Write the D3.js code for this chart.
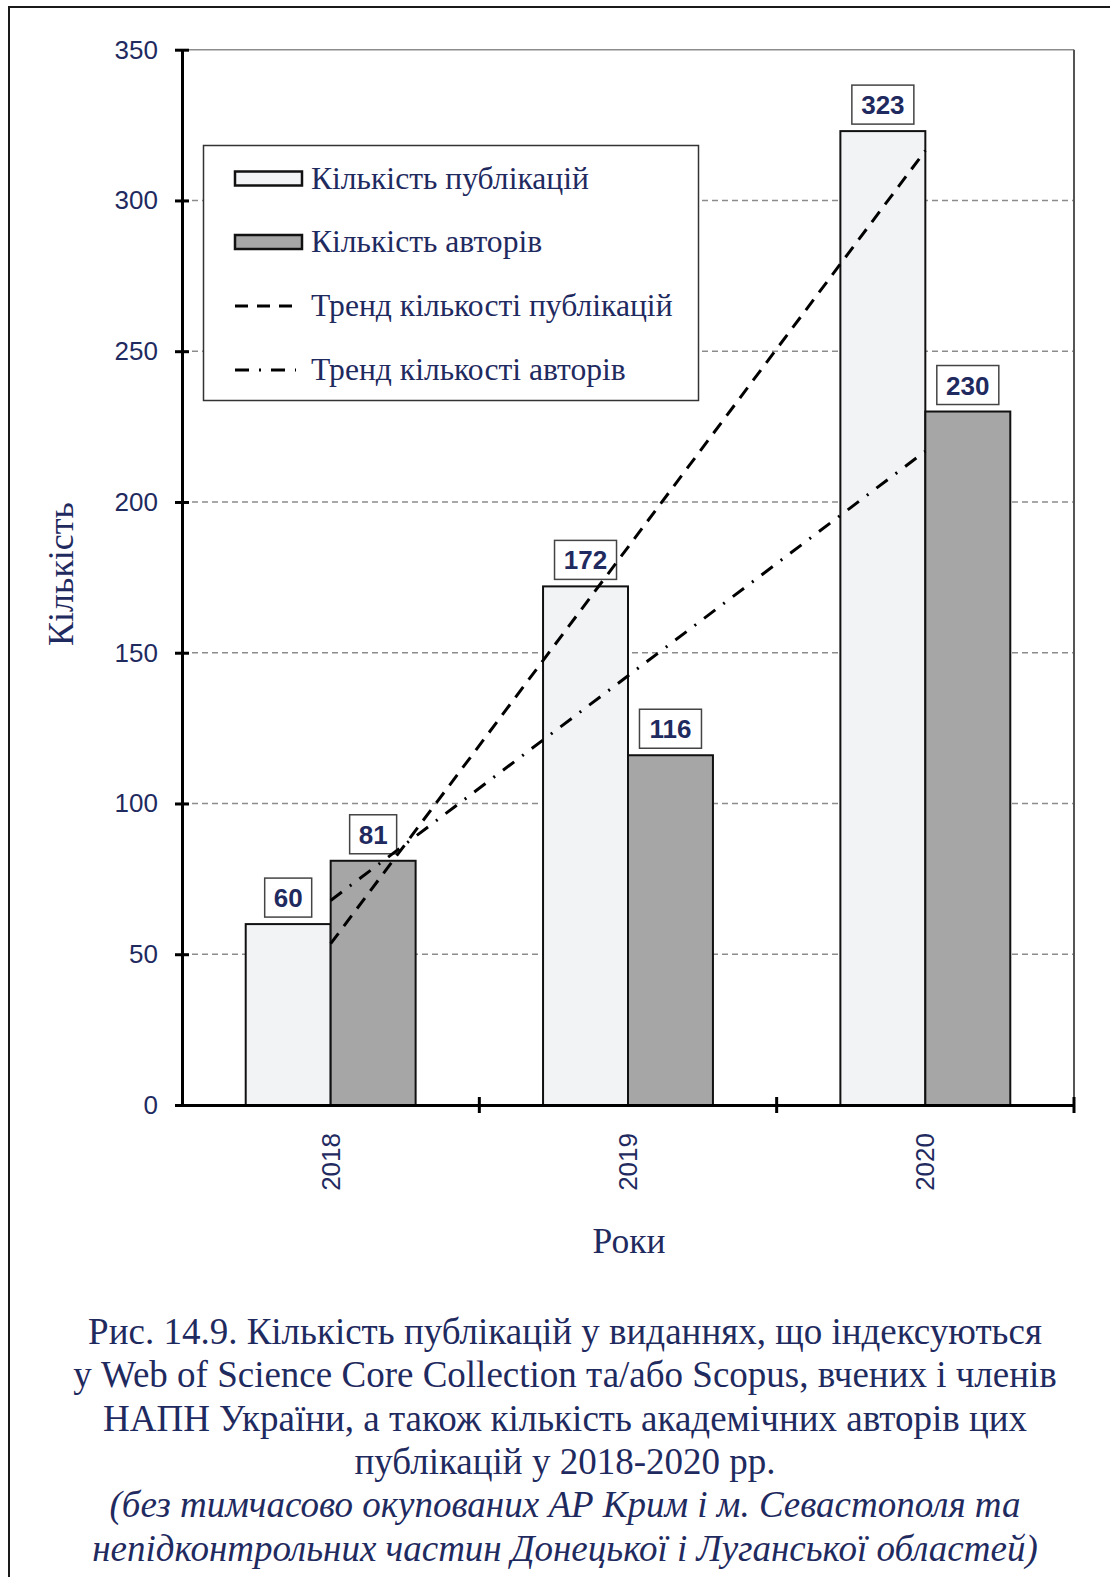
<!DOCTYPE html>
<html>
<head>
<meta charset="utf-8">
<script src="https://cdn.jsdelivr.net/npm/d3@7"></script>
<style>
  body { margin: 0; background: #fff; }
  svg { display: block; }
</style>
</head>
<body>
<div id="chart"></div>
<script>
const width = 1110;
const height = 1577;

// data
const years = ["2018", "2019", "2020"];
const publications = [60, 172, 323];
const authors = [81, 116, 230];
const seriesNames = ["Кількість публікацій", "Кількість авторів"];
const trendNames = ["Тренд кількості публікацій", "Тренд кількості авторів"];
const yTicks = [0, 50, 100, 150, 200, 250, 300, 350];
const captionLines = [
  "Рис. 14.9. Кількість публікацій у виданнях, що індексуються",
  "у Web of Science Core Collection та/або Scopus, вчених і членів",
  "НАПН України, а також кількість академічних авторів цих",
  "публікацій у 2018-2020 рр."
];
const noteLines = [
  "(без тимчасово окупованих АР Крим і м. Севастополя та",
  "непідконтрольних частин Донецької і Луганської областей)"
];

const navy = "#1f2a5f";
const fills = ["#f2f3f5", "#a6a6a6"];
const serif = "'Liberation Serif', 'Times New Roman', serif";
const sans = "'Liberation Sans', Arial, sans-serif";

const plot = { left: 182, right: 1074, top: 49.7, bottom: 1105 };

const svg = d3.select("#chart")
  .append("svg")
  .attr("width", width)
  .attr("height", height);

// outer frame
svg.append("rect")
  .attr("x", 9).attr("y", 7)
  .attr("width", 1120).attr("height", 1600)
  .attr("fill", "none")
  .attr("stroke", "#1a1a1a")
  .attr("stroke-width", 2);

const x0 = d3.scaleBand()
  .domain(years)
  .range([plot.left, plot.right]);

// gap width 150% -> 2 bars + 1.5 bar of gap per category
const x1 = d3.scaleBand()
  .domain([0, 1])
  .range([0, x0.bandwidth()])
  .paddingOuter(0.75);

const y = d3.scaleLinear()
  .domain([0, 350])
  .range([plot.bottom, plot.top]);

// gridlines
svg.append("g")
  .selectAll("line")
  .data(yTicks.filter(d => d > 0))
  .join("line")
  .attr("x1", plot.left)
  .attr("x2", plot.right)
  .attr("y1", d => y(d))
  .attr("y2", d => y(d))
  .attr("stroke", "#8c8c8c")
  .attr("stroke-width", 1.5)
  .attr("stroke-dasharray", d => d === 350 ? null : "6,4");

// right border of plot area
svg.append("line")
  .attr("x1", plot.right).attr("x2", plot.right)
  .attr("y1", plot.top).attr("y2", plot.bottom)
  .attr("stroke", "#555")
  .attr("stroke-width", 2);

// bars
const rows = years.map((yr, i) => ({ year: yr, values: [publications[i], authors[i]] }));

const groups = svg.append("g")
  .selectAll("g")
  .data(rows)
  .join("g")
  .attr("transform", d => `translate(${x0(d.year)},0)`);

groups.selectAll("rect")
  .data(d => d.values.map((v, k) => ({ k, v })))
  .join("rect")
  .attr("x", d => x1(d.k))
  .attr("width", x1.bandwidth())
  .attr("y", d => y(d.v))
  .attr("height", d => y(0) - y(d.v))
  .attr("fill", d => fills[d.k])
  .attr("stroke", "#111")
  .attr("stroke-width", 2);

// data labels
groups.each(function(d) {
  const g = d3.select(this);
  d.values.forEach((v, k) => {
    const cx = x1(k) + x1.bandwidth() / 2;
    const bw = String(v).length * 15 + 17;
    const lb = g.append("g").attr("transform", `translate(${cx},${y(v) - 7})`);
    lb.append("rect")
      .attr("x", -bw / 2).attr("y", -39)
      .attr("width", bw).attr("height", 39)
      .attr("fill", "#fff")
      .attr("stroke", "#444")
      .attr("stroke-width", 1.5);
    lb.append("text")
      .attr("y", -10)
      .attr("text-anchor", "middle")
      .attr("font-family", sans)
      .attr("font-weight", "bold")
      .attr("font-size", 26)
      .attr("fill", navy)
      .text(v);
  });
});

// linear trend lines (least squares over category index)
function trend(vals) {
  const n = vals.length;
  const xs = vals.map((v, i) => i + 1);
  const mx = d3.mean(xs), my = d3.mean(vals);
  const b = d3.sum(xs, (xv, i) => (xv - mx) * (vals[i] - my)) / d3.sum(xs, xv => (xv - mx) ** 2);
  const a = my - b * mx;
  return [[years[0], a + b * 1], [years[n - 1], a + b * n]];
}

const dashes = ["13,9", "14,10,2,10"];
[publications, authors].forEach((vals, k) => {
  const pts = trend(vals);
  svg.append("path")
    .attr("d", d3.line()
      .x(p => x0(p[0]) + x0.bandwidth() / 2)
      .y(p => y(p[1]))(pts))
    .attr("fill", "none")
    .attr("stroke", "#000")
    .attr("stroke-width", 3)
    .attr("stroke-dasharray", dashes[k]);
});

// y axis
const yAxis = svg.append("g")
  .attr("transform", `translate(${plot.left},0)`)
  .call(d3.axisLeft(y).tickValues(yTicks).tickSizeInner(7).tickSizeOuter(0).tickPadding(17));

yAxis.select(".domain").attr("stroke", "#000").attr("stroke-width", 3);
yAxis.selectAll(".tick line").attr("x1", 7).attr("stroke", "#000").attr("stroke-width", 3);
yAxis.selectAll(".tick text")
  .attr("font-family", sans)
  .attr("font-size", 26)
  .attr("fill", navy);

// x axis
const xAxis = svg.append("g")
  .attr("transform", `translate(0,${plot.bottom})`)
  .call(d3.axisBottom(x0).tickSize(0).tickSizeOuter(0));

xAxis.select(".domain").attr("stroke", "#000").attr("stroke-width", 3);
xAxis.selectAll(".tick text")
  .attr("font-family", sans)
  .attr("font-size", 26)
  .attr("fill", navy)
  .attr("transform", "rotate(-90)")
  .attr("text-anchor", "end")
  .attr("x", -28)
  .attr("y", 0)
  .attr("dy", "0.35em");

xAxis.selectAll(".sep")
  .data(years)
  .join("line")
  .attr("class", "sep")
  .attr("x1", d => x0(d) + x0.bandwidth())
  .attr("x2", d => x0(d) + x0.bandwidth())
  .attr("y1", -8)
  .attr("y2", 8)
  .attr("stroke", "#000")
  .attr("stroke-width", 3);

// axis titles
svg.append("text")
  .attr("transform", "translate(73,574) rotate(-90)")
  .attr("text-anchor", "middle")
  .attr("font-family", serif)
  .attr("font-size", 36)
  .attr("fill", navy)
  .text("Кількість");

svg.append("text")
  .attr("x", 629)
  .attr("y", 1253)
  .attr("text-anchor", "middle")
  .attr("font-family", serif)
  .attr("font-size", 35.5)
  .attr("fill", navy)
  .text("Роки");

// legend
const legend = svg.append("g");
legend.append("rect")
  .attr("x", 203.5).attr("y", 145.5)
  .attr("width", 495).attr("height", 255)
  .attr("fill", "#fff")
  .attr("stroke", "#333")
  .attr("stroke-width", 1.5);

const legendY = [178.5, 242, 306, 370];
const legendItems = seriesNames.map((n, i) => ({ name: n, type: "bar", k: i }))
  .concat(trendNames.map((n, i) => ({ name: n, type: "line", k: i })));

legendItems.forEach((it, i) => {
  const cy = legendY[i];
  if (it.type === "bar") {
    legend.append("rect")
      .attr("x", 235).attr("y", cy - 7)
      .attr("width", 67).attr("height", 14)
      .attr("fill", fills[it.k])
      .attr("stroke", "#111")
      .attr("stroke-width", 2.5);
  } else {
    legend.append("line")
      .attr("x1", 235).attr("x2", 296)
      .attr("y1", cy).attr("y2", cy)
      .attr("stroke", "#000")
      .attr("stroke-width", 3)
      .attr("stroke-dasharray", dashes[it.k]);
  }
  legend.append("text")
    .attr("x", 311)
    .attr("y", cy + 10)
    .attr("font-family", serif)
    .attr("font-size", 31.6)
    .attr("fill", navy)
    .text(it.name);
});

// caption
const cap = svg.append("g")
  .attr("font-family", serif)
  .attr("font-size", 37)
  .attr("fill", navy)
  .attr("text-anchor", "middle");

cap.selectAll(".cl")
  .data(captionLines)
  .join("text")
  .attr("class", "cl")
  .attr("x", 565)
  .attr("y", (d, i) => 1344 + i * 43.3)
  .text(d => d);

cap.selectAll(".nl")
  .data(noteLines)
  .join("text")
  .attr("class", "nl")
  .attr("x", 565)
  .attr("y", (d, i) => 1344 + (i + 4) * 43.3)
  .attr("font-style", "italic")
  .text(d => d);
</script>
</body>
</html>
